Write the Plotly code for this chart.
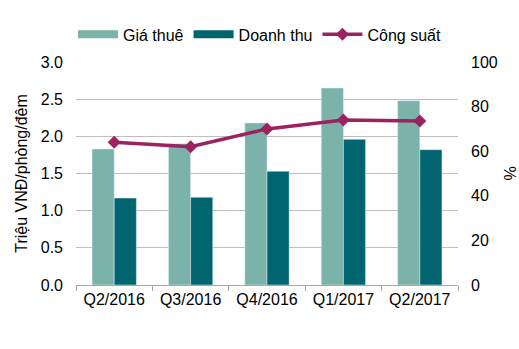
import plotly.graph_objects as go

categories = ["Q2/2016", "Q3/2016", "Q4/2016", "Q1/2017", "Q2/2017"]
gia_thue = [1.83, 1.90, 2.18, 2.65, 2.48]
doanh_thu = [1.17, 1.18, 1.53, 1.96, 1.82]
cong_suat = [64, 62, 70, 74, 73.5]

font = dict(family="Liberation Sans, Arial, sans-serif", size=16, color="#000000")
c_gia = "#7BB2A9"
c_dt = "#00656E"
c_cs = "#9C2260"

fig = go.Figure()
fig.add_trace(go.Bar(x=categories, y=gia_thue, name="Giá thuê", marker_color=c_gia,
                     showlegend=False))
fig.add_trace(go.Bar(x=categories, y=doanh_thu, name="Doanh thu", marker_color=c_dt,
                     showlegend=False))
# legend swatches drawn as wide lines like the reference
fig.add_trace(go.Scatter(x=[None], y=[None], name="Giá thuê", mode="lines",
                         line=dict(color=c_gia, width=8)))
fig.add_trace(go.Scatter(x=[None], y=[None], name="Doanh thu", mode="lines",
                         line=dict(color=c_dt, width=8)))
fig.add_trace(go.Scatter(x=categories, y=cong_suat, name="Công suất", yaxis="y2",
                         mode="lines+markers",
                         line=dict(color=c_cs, width=3.5),
                         marker=dict(symbol="diamond", size=10, color=c_cs)))

fig.update_layout(
    width=519, height=349,
    margin=dict(l=76, r=61, t=62, b=64, autoexpand=False),
    paper_bgcolor="white", plot_bgcolor="white",
    font=font,
    barmode="group", bargap=0.42, bargroupgap=0,
    showlegend=True,
    legend=dict(orientation="h", xref="container", x=0.5, xanchor="center",
                yref="container", y=0.95, yanchor="top", font=font, itemwidth=40,
                traceorder="normal", tracegroupgap=0),
    xaxis=dict(showgrid=False, showline=True, linecolor="#A6A6A6", linewidth=1,
               ticks="outside", tickson="boundaries", ticklen=5, tickcolor="#A6A6A6",
               tickfont=font),
    yaxis=dict(range=[0, 3], dtick=0.5, tickformat=".1f", showgrid=True,
               gridcolor="#BFBFBF", gridwidth=1, zeroline=False, showline=False,
               title=dict(text="Triệu VNĐ/phòng/đêm", font=font, standoff=9),
               tickfont=font, ticks="", ticklabelstandoff=12),
    yaxis2=dict(range=[0, 100], dtick=20, overlaying="y", side="right",
                showgrid=False, zeroline=False, showline=False,
                title=dict(text="%", font=font, standoff=22),
                tickfont=font, ticklabelstandoff=12),
)

fig.write_html("out.html")
